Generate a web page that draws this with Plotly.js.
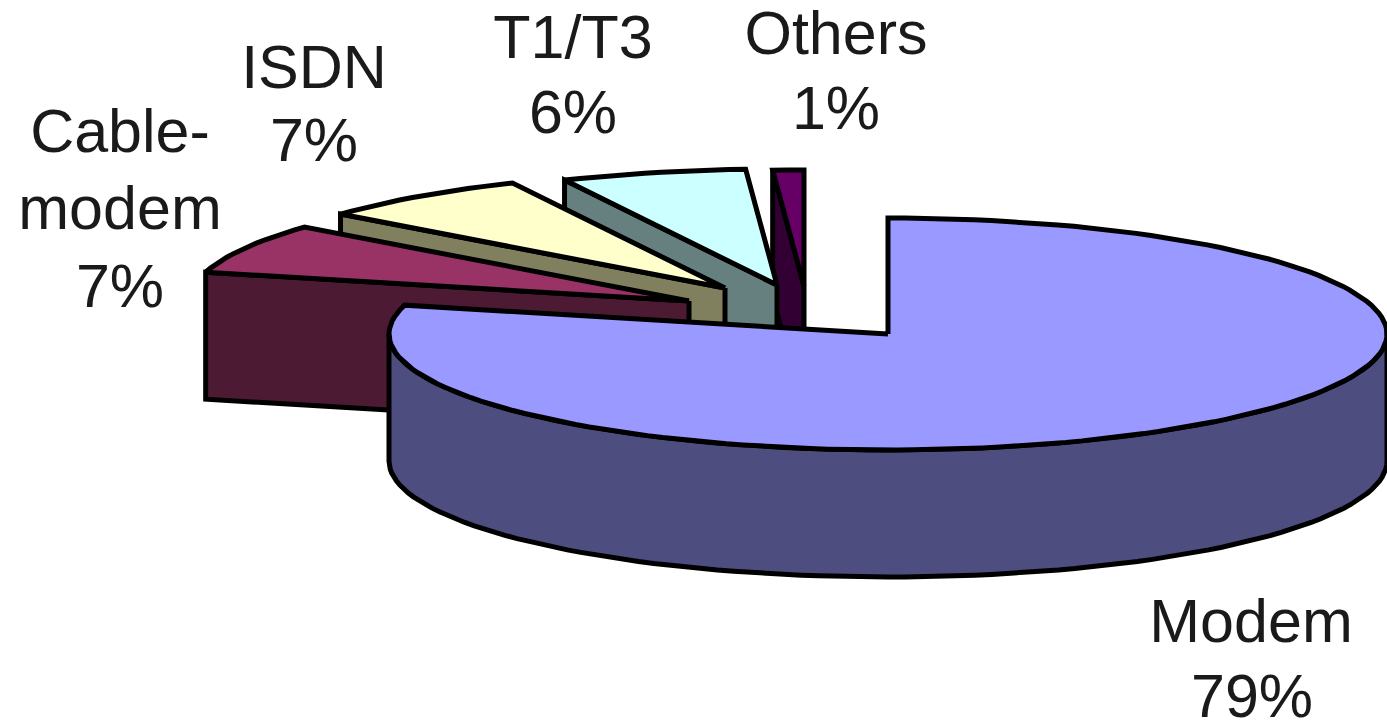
<!DOCTYPE html>
<html>
<head>
<meta charset="utf-8">
<script src="https://cdn.plot.ly/plotly-3.0.1.min.js"></script>
<style>
html,body{margin:0;padding:0;background:#fff;overflow:hidden}
.scatterlayer .js-line{stroke-linejoin:miter!important}
</style>
</head>
<body>
<div id="chart" style="width:1387px;height:724px"></div>
<script>
// Internet connection types, share of users in percent, clockwise from twelve o'clock
const categories = ['Modem', 'Cable-modem', 'ISDN', 'T1/T3', 'Others'];
const shares = [79, 7, 7, 6, 1];

const topColors = ['#9999ff', '#993366', '#ffffcc', '#ccffff', '#660066'];
const wallColors = ['#4d4d80', '#4d1a33', '#80805f', '#668080', '#330033'];

// Where each exploded slice has its apex on the canvas
const apexX = [888, 689, 725, 777, 804];
const apexY = [334, 301, 288, 285, 286];

// Projection of the pie disc
const radiusX = 499;
const radiusY = 116;
const thickness = 127;
const outlineWidth = 5;

// Label rows: the text lines of each category, with centre positions per row
const labelLines = [['Modem'], ['Cable-', 'modem'], ['ISDN'], ['T1/T3'], ['Others']];
const labelCentreX = [[1251, 1252], [120, 120, 120], [314, 314], [573, 573], [836, 836]];
const labelCentreY = [[627, 702], [137, 214, 292], [73, 146], [43, 118], [39, 114]];

const polar = (cx, cy, deg, drop) => {
  const r = deg * Math.PI / 180;
  return [cx + radiusX * Math.sin(r), cy - radiusY * Math.cos(r) + drop];
};

const arcPoints = (cx, cy, from, to, drop) => {
  const pts = [];
  const steps = Math.max(2, Math.ceil(Math.abs(to - from) / 2));
  for (let i = 0; i <= steps; i++) {
    pts.push(polar(cx, cy, from + (to - from) * i / steps, drop));
  }
  return pts;
};

const polygonTrace = (pts, fill) => ({
  type: 'scatter',
  mode: 'lines',
  x: pts.map(p => p[0]).concat(pts[0][0]),
  y: pts.map(p => p[1]).concat(pts[0][1]),
  fill: 'toself',
  fillcolor: fill,
  line: { color: '#000', width: outlineWidth, shape: 'linear' },
  hoverinfo: 'skip',
  showlegend: false
});

// Slice spans in degrees, accumulated from the shares
const total = shares.reduce((a, b) => a + b, 0);
let running = 0;
const spans = shares.map(s => {
  const start = running / total * 360;
  running += s;
  return [start, running / total * 360];
});

const traces = [];

// Paint from the back slice to the front one so nearer slices cover farther ones
for (let i = categories.length - 1; i >= 0; i--) {
  const [start, end] = spans[i];
  const cx = apexX[i];
  const cy = apexY[i];

  if (i === 0) {
    // The large slice shows its rim along the front half of the disc
    const upper = arcPoints(cx, cy, 90, 270, 0);
    const lower = arcPoints(cx, cy, 270, 90, thickness);
    traces.push(polygonTrace(upper.concat(lower), wallColors[i]));
  } else {
    // The exploded slices show the cut face on their starting edge
    const rim = polar(cx, cy, start, 0);
    traces.push(polygonTrace([
      [cx, cy], rim, [rim[0], rim[1] + thickness], [cx, cy + thickness]
    ], wallColors[i]));
  }

  traces.push(polygonTrace([[cx, cy]].concat(arcPoints(cx, cy, start, end, 0)), topColors[i]));
}

// Category names with their percentage on the row below
const textX = [], textY = [], textRows = [];
categories.forEach((name, i) => {
  const rows = labelLines[i].concat(shares[i] + '%');
  rows.forEach((row, r) => {
    textX.push(labelCentreX[i][r]);
    textY.push(labelCentreY[i][r]);
    textRows.push(row);
  });
});

traces.push({
  type: 'scatter',
  mode: 'text',
  x: textX,
  y: textY,
  text: textRows,
  textposition: 'middle center',
  textfont: { family: '"Liberation Sans", Arial, sans-serif', size: 61, color: '#1a1a1a' },
  cliponaxis: false,
  hoverinfo: 'skip',
  showlegend: false
});

const hiddenAxis = range => ({
  range, visible: false, fixedrange: true, showgrid: false, zeroline: false
});

Plotly.newPlot('chart', traces, {
  width: 1387,
  height: 724,
  autosize: false,
  margin: { l: 0, r: 0, t: 0, b: 0, pad: 0 },
  paper_bgcolor: '#fff',
  plot_bgcolor: '#fff',
  showlegend: false,
  xaxis: hiddenAxis([0, 1387]),
  yaxis: hiddenAxis([724, 0])
}, { staticPlot: true, displayModeBar: false });
</script>
</body>
</html>
